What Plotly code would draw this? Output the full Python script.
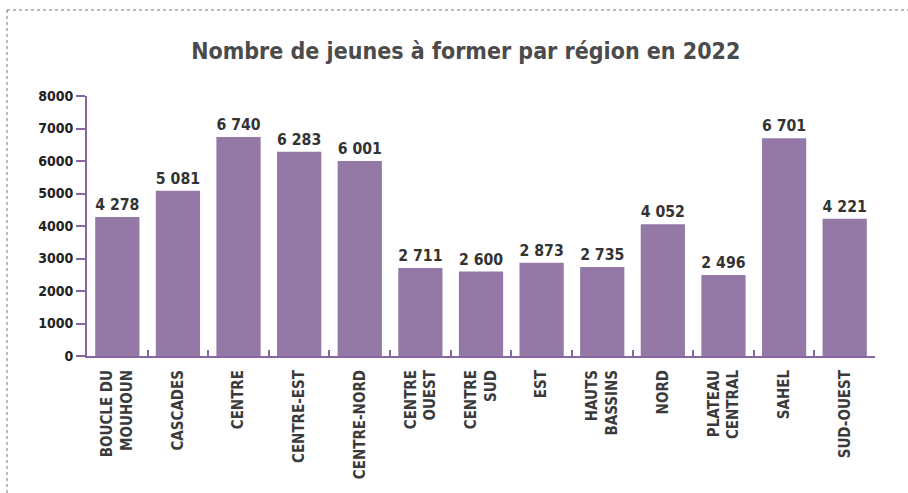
import plotly.graph_objects as go

# Regions and number of young people to train in 2022
regions = [
    "BOUCLE DU<br>MOUHOUN", "CASCADES", "CENTRE", "CENTRE-EST", "CENTRE-NORD",
    "CENTRE<br>OUEST", "CENTRE<br>SUD", "EST", "HAUTS<br>BASSINS", "NORD",
    "PLATEAU<br>CENTRAL", "SAHEL", "SUD-OUEST",
]
jeunes = [4278, 5081, 6740, 6283, 6001, 2711, 2600, 2873, 2735, 4052, 2496, 6701, 4221]
y_ticks = [0, 1000, 2000, 3000, 4000, 5000, 6000, 7000, 8000]

FONT = "DejaVu Sans Condensed, DejaVu Sans, sans-serif"
BAR = "#9479a7"
AXIS = "#8566a0"

labels = [f"{v:,}".replace(",", " ") for v in jeunes]

fig = go.Figure(
    go.Bar(
        x=list(range(len(regions))),
        y=jeunes,
        text=labels,
        textposition="outside",
        textfont=dict(family=FONT, size=16, color="#333333", weight="bold"),
        marker=dict(color=BAR, line=dict(width=0)),
        cliponaxis=False,
    )
)

fig.update_layout(
    width=908,
    height=493,
    margin=dict(l=87, r=33, t=96, b=137),
    paper_bgcolor="white",
    plot_bgcolor="white",
    bargap=0.27,
    showlegend=False,
    title=dict(
        text="Nombre de jeunes à former par région en 2022",
        x=0.513,
        xanchor="center",
        y=0.897,
        yanchor="middle",
        font=dict(family=FONT, size=23, color="#4b4b4b", weight="bold"),
    ),
    shapes=[
        # dotted frame along the top and left edges
        dict(type="line", xref="paper", yref="paper",
             x0=-0.1015, x1=1.05, y0=1.331, y1=1.331,
             line=dict(color="#777777", width=1, dash="dot")),
        dict(type="line", xref="paper", yref="paper",
             x0=-0.1015, x1=-0.1015, y0=1.331, y1=-0.53,
             line=dict(color="#777777", width=1, dash="dot")),
    ],
)

fig.update_xaxes(
    tickmode="array",
    tickvals=list(range(len(regions))),
    ticktext=regions,
    range=[-0.5, len(regions) - 0.5],
    tickangle=-90,
    showline=True,
    linecolor=AXIS,
    linewidth=2,
    ticks="",
    showgrid=False,
    zeroline=False,
    tickfont=dict(family=FONT, size=15, color="#3a3a3a", weight="bold"),
    ticklabelstandoff=6,
)

# boundary ticks between categories, pointing into the plot
fig.update_layout(
    xaxis2=dict(
        overlaying="x",
        range=[-0.5, len(regions) - 0.5],
        tickmode="array",
        tickvals=[i + 0.5 for i in range(len(regions))],
        ticks="inside",
        ticklen=6,
        tickwidth=1.5,
        tickcolor=AXIS,
        showticklabels=False,
        showgrid=False,
        zeroline=False,
        side="bottom",
        anchor="y",
    )
)
fig.add_trace(go.Scatter(x=[0], y=[0], xaxis="x2", mode="markers",
                         marker=dict(opacity=0), hoverinfo="skip"))

fig.update_yaxes(
    range=[0, 8000],
    tickmode="array",
    tickvals=y_ticks,
    ticktext=[str(v) for v in y_ticks],
    showline=True,
    linecolor=AXIS,
    linewidth=2,
    ticks="outside",
    ticklen=9,
    tickwidth=1.5,
    tickcolor=AXIS,
    showgrid=False,
    zeroline=False,
    tickfont=dict(family=FONT, size=14, color="#222222", weight="bold"),
)

fig.write_html("out.html")
